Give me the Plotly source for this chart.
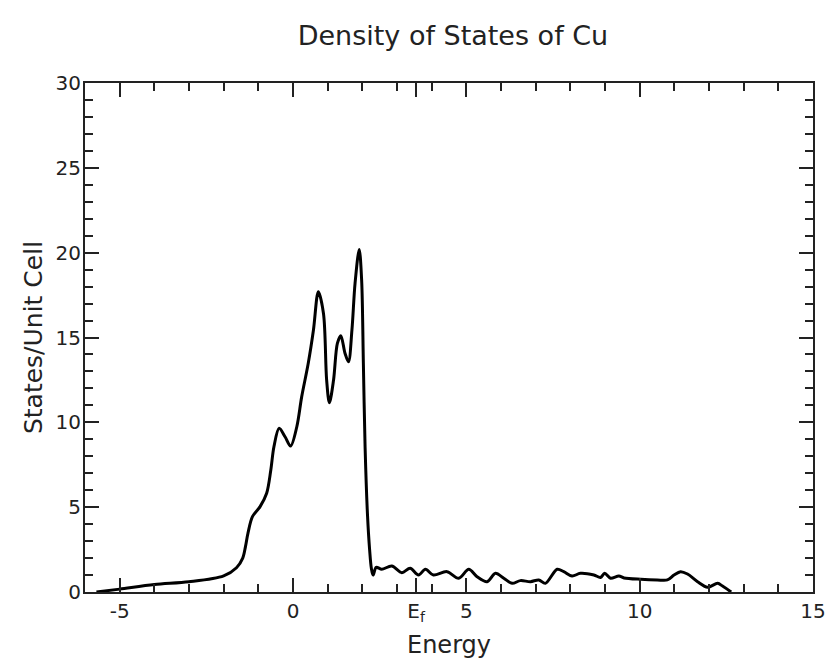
import plotly.graph_objects as go

energy = [-5.67, -5.0, -4.0, -3.0, -2.0, -1.63, -1.45, -1.37, -1.30, -1.17, -0.95, -0.76,
          -0.64, -0.55, -0.40, -0.23, -0.07, 0.11, 0.25, 0.44, 0.59, 0.73, 0.88, 0.97,
          1.05, 1.17, 1.28, 1.38, 1.50, 1.60, 1.70, 1.79, 1.91, 1.98, 2.03, 2.08, 2.15,
          2.21, 2.26, 2.31, 2.40, 2.56, 2.85, 3.14, 3.38, 3.62, 3.82, 4.05, 4.44, 4.78,
          5.07, 5.31, 5.60, 5.84, 6.08, 6.32, 6.56, 6.85, 7.09, 7.28, 7.62, 7.81, 8.05,
          8.29, 8.68, 8.87, 8.99, 9.16, 9.40, 9.55, 10.03, 10.51, 10.80, 10.99, 11.18,
          11.38, 11.67, 11.96, 12.25, 12.39, 12.64]
dos = [0.0, 0.17, 0.44, 0.60, 0.95, 1.43, 2.0, 2.69, 3.46, 4.44, 5.03, 5.82,
       7.19, 8.56, 9.65, 9.15, 8.60, 9.74, 11.5, 13.48, 15.44, 17.7, 16.4, 12.5,
       11.15, 12.5, 14.65, 15.1, 14.07, 13.57, 15.44, 18.19, 20.19, 18.38, 13.48, 8.5, 4.5,
       2.5, 1.4, 1.0, 1.45, 1.34, 1.53, 1.14, 1.40, 1.0, 1.34, 1.0, 1.20, 0.81,
       1.34, 0.90, 0.61, 1.10, 0.81, 0.51, 0.67, 0.61, 0.71, 0.51, 1.34, 1.20, 0.94,
       1.10, 1.0, 0.86, 1.10, 0.81, 0.94, 0.83, 0.75, 0.71, 0.71, 1.0, 1.20,
       1.06, 0.61, 0.28, 0.51, 0.35, 0.0]

x_major_vals = [-5, 0, 3.55, 5, 10, 15]
x_major_text = ["-5", "0", "E<sub>f</sub>", "5", "10", "15"]
x_minor_vals = [-4, -3, -2, -1, 1, 2, 3, 4, 6, 7, 8, 9, 11, 12, 13, 14]
y_major_vals = [0, 5, 10, 15, 20, 25, 30]
y_minor_vals = [v for v in range(1, 30) if v % 5 != 0]

FONT = "DejaVu Sans"

fig = go.Figure()
fig.add_trace(go.Scatter(x=energy, y=dos, mode="lines",
                         line=dict(color="black", width=3, shape="spline", smoothing=0.9),
                         showlegend=False, hoverinfo="skip"))

axis_common = dict(showline=True, linecolor="#222", linewidth=2, mirror="allticks",
                   ticks="inside", tickcolor="#222", tickwidth=1.6, ticklen=14,
                   showgrid=False, zeroline=False, automargin=False,
                   ticklabeloverflow="allow",
                   tickfont=dict(family=FONT, size=20, color="#222"))

fig.update_layout(
    width=825, height=662,
    margin=dict(l=85, r=12, t=83, b=70),
    paper_bgcolor="white", plot_bgcolor="white",
    title=dict(text="Density of States of Cu", x=0.549, xanchor="center", y=0.947,
               yanchor="middle", font=dict(family=FONT, size=27, color="#222")),
    xaxis=dict(range=[-6, 15], tickmode="array", tickvals=x_major_vals, ticktext=x_major_text,
               minor=dict(tickmode="array", tickvals=x_minor_vals, ticks="inside", ticklen=8,
                          tickcolor="#222", tickwidth=1.6),
               title=dict(text="Energy", font=dict(family=FONT, size=24, color="#222"), standoff=12),
               ticklabelstandoff=0,
               **axis_common),
    yaxis=dict(range=[0, 30], tickmode="array", tickvals=y_major_vals,
               minor=dict(tickmode="array", tickvals=y_minor_vals, ticks="inside", ticklen=8,
                          tickcolor="#222", tickwidth=1.6),
               title=dict(text="States/Unit Cell", font=dict(family=FONT, size=25, color="#222"), standoff=6),
               ticklabelstandoff=-2,
               **axis_common),
)

fig.write_html("out.html")
